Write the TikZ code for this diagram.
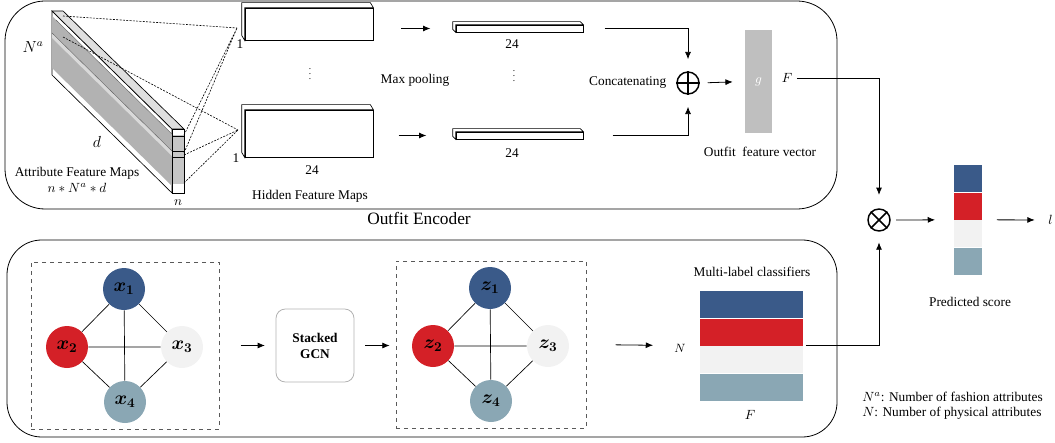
\documentclass[tikz,border=0pt]{standalone}
\usepackage{fontspec}
\setmainfont{Liberation Serif}
\usepackage{bm}
\usetikzlibrary{positioning,calc,arrows.meta}

\definecolor{cblue}{RGB}{58,90,137}
\definecolor{cred}{RGB}{212,32,39}
\definecolor{clight}{RGB}{242,242,242}
\definecolor{cgrey}{RGB}{138,167,180}
\definecolor{gvec}{RGB}{191,191,191}

\tikzset{
  arr/.style={-{Latex[length=5.5pt,width=4.5pt]}, line width=0.6pt},
  proj/.style={dash pattern=on 1.5pt off 1pt, line width=0.45pt},
  vnode/.style={circle, minimum size=31.5pt, inner sep=0pt, font=\Large},
  fmap/.style={draw, fill=white, inner sep=0pt, line width=0.5pt},
  bar/.style={rectangle, inner sep=0pt, minimum width=77.25pt, minimum height=20.25pt},
  sbar/.style={rectangle, inner sep=0pt, minimum width=21pt, minimum height=20.25pt},
  gbox/.style={draw, dashed, gray!70!black, line width=0.5pt, inner sep=0pt, minimum height=125.25pt},
  opnode/.style={circle, draw, line width=1.1pt, minimum size=16.5pt, inner sep=0pt},
}

% side and top faces of a flat map
\newcommand{\bevel}[3]{%
  \draw[fill=white, line width=0.5pt] (#1.south west) -- ($(#1.south west)+(#2,#3)$)
    -- ($(#1.north west)+(#2,#3)$) -- ($(#1.north east)+(#2,#3)$) -- (#1.north east)
    -- (#1.north west) -- cycle;}

\begin{document}
\begin{tikzpicture}[x=0.75pt, y=-0.75pt]
    \useasboundingbox (0,0) rectangle (1055,442);

    % encoder frames
    \draw[line width=0.6pt, rounded corners=30pt] (5,1) rectangle (837,209);
    \draw[line width=0.6pt, rounded corners=26pt] (7,240) rectangle (837,437);
    \node at (419,218) {\fontsize{13}{15}\selectfont Outfit Encoder};

    % attribute feature maps
    \draw[fill=white, line width=0.5pt] (52,11) -- (172,129) -- (172,193) -- (52,75) -- cycle;
    \fill[gray!60] (52,16) -- (172,134) -- (172,186) -- (52,68) -- cycle;
    \fill[gray!30] (52,33) -- (172,151) -- (172,156) -- (52,38) -- cycle;
    \draw[gray!75!black, line width=0.3pt] (52,33) -- (172,151) (56,20) -- (176,138);
    \draw[fill=gray!25, line width=0.5pt] (52,11) -- (63,11) -- (184,129) -- (172,129) -- cycle;
    \draw[fill=white, line width=0.5pt] (172,129) rectangle (184,193);
    \fill[gray!45] (172,135) rectangle (184,184);
    \draw[line width=0.3pt] (172,136) -- (184,136) (172,151) -- (184,151) (172,157) -- (184,157);
    \draw[line width=0.5pt] (172,129) rectangle (184,193);
    \node at (33,47) {\large$N^a$};
    \node at (97,142) {\large$d$};
    \node[align=center] at (77,180) {Attribute Feature Maps\\$n*N^a*d$};
    \node at (178,203) {$n$};

    % hidden feature maps
    \node[fmap, minimum width=96pt, minimum height=24pt] (h1) at (309,24) {};
    \node[fmap, minimum width=96pt, minimum height=35.25pt] (h2) at (309,133.5) {};
    \bevel{h1}{-3}{-5}
    \bevel{h2}{-3}{-5}
    \node at (240,44) {1};
    \node at (236,158) {1};
    \node at (312,170) {24};
    \node at (310,70) {\scriptsize$\vdots$};
    \node at (310,196) {Hidden Feature Maps};

    % kernel projections
    \coordinate (k1) at (237,28);
    \coordinate (k2) at (238,130);
    \coordinate (a1) at (63,16);
    \coordinate (a2) at (184,135);
    \coordinate (a3) at (184,153);
    \coordinate (b1) at (63,37);
    \coordinate (b2) at (184,155);
    \coordinate (b3) at (184,183);
    \draw[proj] (a1) -- (k1) (a2) -- (k1) (a3) -- (k1);
    \draw[proj] (b1) -- (k2) (b2) -- (k2) (b3) -- (k2);

    % pooled vectors
    \node[fmap, minimum width=95.25pt, minimum height=5.25pt] (p1) at (519.5,28.5) {};
    \node[fmap, minimum width=95.25pt, minimum height=5.25pt] (p2) at (519.5,135.5) {};
    \bevel{p1}{-3}{-3}
    \bevel{p2}{-3}{-3}
    \node at (512,44) {24};
    \node at (512,153) {24};
    \node at (514,72) {\scriptsize$\vdots$};
    \node at (415,80) {Max pooling};
    \draw[arr, shorten <=21pt, shorten >=19pt] (h1.east |- p1.west) -- (p1.west);
    \draw[arr, shorten <=19pt, shorten >=22pt] (h2.east |- p2.west) -- (p2.west);

    % concatenation
    \node[opnode] (plus) at (688,83) {};
    \draw[line width=1.1pt] (plus.north) -- (plus.south) (plus.west) -- (plus.east);
    \node[left=4pt of plus] {Concatenating};
    \draw[arr, shorten <=16pt, shorten >=9pt] (p1.east) -| (plus.north);
    \draw[arr, shorten <=22pt, shorten >=9pt] (p2.east) -| (plus.south);

    % outfit feature vector
    \node[rectangle, fill=gvec, minimum width=20.25pt, minimum height=77.25pt, inner sep=0pt,
          text=white] (g) at (758.5,81.5) {$g$};
    \draw[arr, shorten <=6pt, shorten >=9pt] (plus.east) -- (g.west);
    \node (gF) at (787,78) {$F$};
    \node at (760,152) {Outfit\ \ feature vector};

    % graph of attributes
    \node[gbox, minimum width=141pt] (gin) at (125,345.5) {};
    \node[vnode, fill=cblue] (x1) at (124,289) {$\bm{x_1}$};
    \node[vnode, fill=cred] (x2) at (67,347) {$\bm{x_2}$};
    \node[vnode, fill=clight] (x3) at (182,347) {$\bm{x_3}$};
    \node[vnode, fill=cgrey] (x4) at (125,402) {$\bm{x_4}$};
    \draw[line width=0.5pt] (x1) -- (x2) (x1) -- (x3) (x1) -- (x4)
        (x2) -- (x3) (x2) -- (x4) (x3) -- (x4);

    \node[draw=gray!60, line width=0.6pt, rounded corners=7pt, minimum width=58.5pt,
          minimum height=54.75pt, align=center, font=\bfseries] (gcn) at (315,345.5) {Stacked\\GCN};
    \draw[arr, shorten <=16pt, shorten >=8pt] (gin.east) -- (gcn.west);

    \node[gbox, minimum width=142.5pt] (gout) at (491,344.5) {};
    \node[vnode, fill=cblue] (z1) at (490,288) {$\bm{z_1}$};
    \node[vnode, fill=cred] (z2) at (433,346) {$\bm{z_2}$};
    \node[vnode, fill=clight] (z3) at (548,346) {$\bm{z_3}$};
    \node[vnode, fill=cgrey] (z4) at (491,401) {$\bm{z_4}$};
    \draw[line width=0.5pt] (z1) -- (z2) (z1) -- (z3) (z1) -- (z4)
        (z2) -- (z3) (z2) -- (z4) (z3) -- (z4);
    \draw[arr, shorten <=8pt, shorten >=4.5pt] (gcn.east) -- (gout.west |- gcn.east);

    % multi-label classifiers
    \node[bar, fill=cblue] (c1) at (751.5,304.5) {};
    \node[bar, fill=cred, below=0pt of c1] (c2) {};
    \node[bar, fill=clight, below=0pt of c2] (c3) {};
    \node[bar, fill=cgrey, below=0pt of c3] (c4) {};
    \node at (752,272) {Multi-label classifiers};
    \node at (750,415) {$F$};
    \node at (680,348) {\small$N$};
    \draw[arr, shorten <=22pt, shorten >=35pt] (gout.east) -- (c2.south west);

    % fusion and prediction
    \node[opnode] (times) at (879,220) {};
    \draw[line width=1.1pt] (times.north west) -- (times.south east)
        (times.north east) -- (times.south west);
    \draw[arr, shorten >=10pt] (gF.east) -| (times.north);
    \draw[arr, shorten >=8pt] ([xshift=2pt]c2.south east) -| (times.south);

    \node[sbar, fill=cblue] (s1) at (968,178.5) {};
    \node[sbar, fill=cred, below=0pt of s1] (s2) {};
    \node[sbar, fill=clight, below=0pt of s2] (s3) {};
    \node[sbar, fill=cgrey, below=0pt of s3] (s4) {};
    \node at (970,302) {Predicted score};
    \draw[arr, shorten <=4pt, shorten >=14pt] (times.east) -- (s2.south west);
    \node[anchor=west, inner sep=0pt] (out) at (1048,220) {$l$};
    \draw[arr, shorten <=11pt, shorten >=10pt] (s2.south east) -- (out.west);

    % legend
    \node[anchor=west, inner sep=0pt] at (862,397) {$N^a$: Number of fashion attributes};
    \node[anchor=west, inner sep=0pt] at (862,413) {$N$: Number of physical attributes};
\end{tikzpicture}
\end{document}
